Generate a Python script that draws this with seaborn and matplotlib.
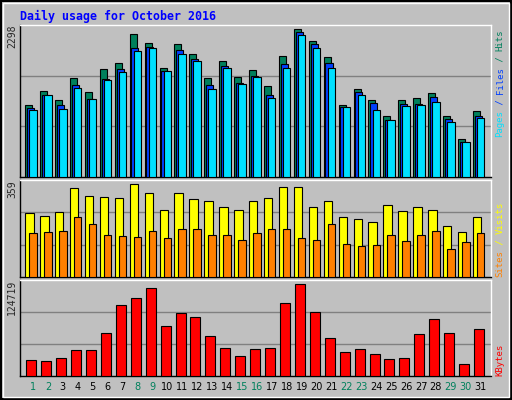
import matplotlib

matplotlib.use("Agg")
import matplotlib.pyplot as plt
import numpy as np
import seaborn as sns

days = list(range(1, 32))
weekend_days = [1, 2, 8, 9, 15, 16, 22, 23, 29, 30]
hits = [1081, 1303, 1167, 1495, 1283, 1626, 1722, 2162, 2025, 1641, 2010, 1858, 1495, 1748, 1515, 1616,
        1374, 1823, 2232, 2050, 1808, 1096, 1323, 1167, 929, 1167, 1192, 1268, 929, 581, 1000]
files = [1040, 1242, 1081, 1384, 1172, 1475, 1626, 1944, 1965, 1606, 1914, 1778, 1384, 1677, 1419, 1520,
         1247, 1702, 2187, 2005, 1722, 1061, 1278, 1116, 869, 1111, 1106, 1217, 884, 535, 929]
pages = [1020, 1237, 1035, 1338, 1172, 1459, 1581, 1899, 1944, 1601, 1853, 1747, 1323, 1641, 1399, 1505,
         1187, 1641, 2141, 1944, 1641, 1061, 1247, 1020, 869, 1066, 1096, 1141, 838, 535, 889]
visits = [236, 225, 240, 330, 300, 296, 292, 345, 311, 247, 311, 289, 281, 259, 247, 281,
          292, 334, 334, 259, 281, 221, 213, 202, 266, 243, 259, 247, 187, 168, 221]
sites = [164, 168, 172, 221, 198, 157, 153, 149, 172, 146, 176, 176, 157, 157, 138, 164,
         176, 176, 146, 138, 198, 123, 115, 119, 157, 134, 157, 172, 104, 131, 161]
kbytes = [21364, 20056, 23980, 33136, 33136, 55372, 91996, 101152, 114232, 64528, 81532, 76300, 51448,
          35752, 26596, 34444, 35752, 94612, 119464, 82840, 48832, 31828, 34444, 29212, 22672, 23980,
          54064, 73684, 55372, 16132, 60604]
max_hits, max_visits, max_kb = 2298, 359, 124719

sns.set_style("white")
plt.rcParams["font.family"] = ["DejaVu Sans Mono", "DejaVu Sans"]
BG = "#C0C0C0"
W, H = 512, 400
fig = plt.figure(figsize=(W / 100, H / 100), dpi=100, facecolor=BG)

# outer frame
fig.add_artist(plt.Rectangle((1 / W, 1 / H), 1 - 2 / W, 1 - 2 / H, transform=fig.transFigure,
                             fill=False, edgecolor="black", lw=1.5))
fig.add_artist(plt.Rectangle((3 / W, 3 / H), 1 - 6 / W, 1 - 6 / H, transform=fig.transFigure,
                             fill=False, edgecolor="white", lw=1))


def add_panel(y0, y1):
    ax = fig.add_axes([20 / W, 1 - y1 / H, 471 / W, (y1 - y0) / H])
    ax.set_facecolor(BG)
    ax.set_xlim(0.13, 31.69)
    for s in ax.spines.values():
        s.set_color("black")
        s.set_linewidth(1)
    ax.spines["top"].set_color("white")
    ax.spines["right"].set_color("white")
    ax.set_xticks([])
    return ax


def bars(ax, vals, off, width, color):
    x = np.array(days) + off + width / 2
    ax.bar(x, vals, width=width, color=color, edgecolor="black", linewidth=0.8, zorder=3)


def ymax_label(ax, text):
    ax.set_ylim(0, 1)
    ax.set_yticks([])


ax1 = add_panel(25, 177)
ax1.set_ylim(0, max_hits)
for g in (1 / 3, 2 / 3):
    ax1.axhline(g * max_hits, color="#808080", lw=1, zorder=1)
bars(ax1, hits, -0.52, 0.47, "#00805C")
bars(ax1, files, -0.40, 0.47, "#0040FF")
bars(ax1, pages, -0.25, 0.50, "#00E0FF")
ax1.set_yticks([max_hits])
ax1.set_yticklabels([str(max_hits)], rotation=90, va="top", fontsize=7)

ax2 = add_panel(180, 277)
ax2.set_ylim(0, max_visits)
for g in (1 / 3, 2 / 3):
    ax2.axhline(g * max_visits, color="#808080", lw=1, zorder=1)
bars(ax2, visits, -0.52, 0.56, "#FFFF00")
bars(ax2, sites, -0.25, 0.50, "#FF8000")
ax2.set_yticks([max_visits])
ax2.set_yticklabels([str(max_visits)], rotation=90, va="top", fontsize=7)

ax3 = add_panel(280, 376)
ax3.set_ylim(0, max_kb)
for g in (1 / 3, 2 / 3):
    ax3.axhline(g * max_kb, color="#808080", lw=1, zorder=1)
bars(ax3, kbytes, -0.45, 0.67, "#FF0000")
ax3.set_yticks([max_kb])
ax3.set_yticklabels([str(max_kb)], rotation=90, va="top", fontsize=7)
ax3.set_xticks(days)
ax3.set_xticklabels([str(d) for d in days], fontsize=7, family="DejaVu Sans")
ax3.tick_params(axis="x", length=0, pad=4)
for lbl, d in zip(ax3.get_xticklabels(), days):
    lbl.set_color("#00805C" if d in weekend_days else "black")
for ax in (ax1, ax2, ax3):
    ax.tick_params(axis="y", length=0, pad=2)

fig.text(20 / W, 1 - 16 / H, "Daily usage for October 2016", color="#0000FF", fontsize=8.4,
         fontweight="bold", va="center", ha="left")


def side_label(parts, y_bottom):
    y = y_bottom
    char = 5.4
    for txt, col in parts:
        fig.text(500 / W, 1 - y / H, txt, color=col, rotation=90, fontsize=6.5,
                 ha="center", va="bottom")
        y -= char * len(txt)


side_label([("Pages", "#00E0FF"), (" / ", "#0040FF"), ("Files", "#0040FF"), (" / ", "#00805C"),
            ("Hits", "#00805C")], 137)
side_label([("Sites", "#FF8000"), (" / ", "#FFFF00"), ("Visits", "#FFFF00")], 277)
side_label([("KBytes", "#FF0000")], 376)

fig.savefig("out.png", dpi=100, facecolor=BG)
